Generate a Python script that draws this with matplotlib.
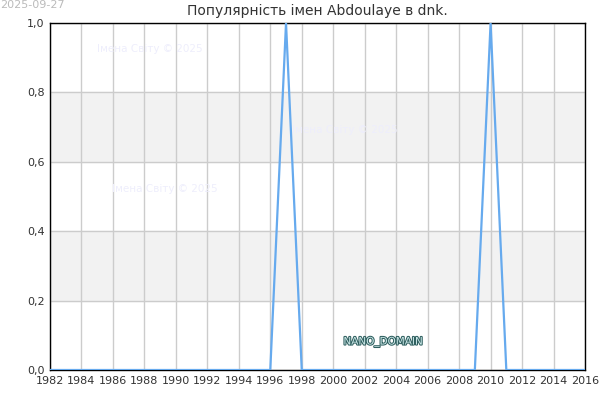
import matplotlib
matplotlib.use("Agg")
import matplotlib.pyplot as plt
import matplotlib.patheffects as pe

years = list(range(1982, 2017))
values = [0] * len(years)
values[years.index(1997)] = 1
values[years.index(2010)] = 1

x_ticks = list(range(1982, 2017, 2))
y_ticks = [0.0, 0.2, 0.4, 0.6, 0.8, 1.0]
y_labels = ["0,0", "0,2", "0,4", "0,6", "0,8", "1,0"]
bands = [(0.2, 0.4), (0.6, 0.8)]

title = "Популярність імен Abdoulaye в dnk."
stamp = "2025-09-27"
watermark = "Імена Світу © 2025"

fig = plt.figure(figsize=(6, 4), dpi=100)
ax = fig.add_axes([0.0833, 0.075, 0.8917, 0.8675])

for lo, hi in bands:
    ax.axhspan(lo, hi, color="#f2f2f2", zorder=0)

ax.plot(years, values, color="#66aaee", lw=1.6, zorder=3)

ax.set_xlim(1982, 2016)
ax.set_ylim(0, 1)
ax.set_xticks(x_ticks)
ax.set_yticks(y_ticks)
ax.set_yticklabels(y_labels)
ax.grid(True, color="#cccccc", lw=1, zorder=1)
ax.set_axisbelow(True)
ax.tick_params(length=0, labelsize=8, labelcolor="#333333", pad=4)
for s in ax.spines.values():
    s.set_color("black")
    s.set_linewidth(1)

ax.set_title(title, fontsize=10, color="#333333", pad=6)
fig.text(0.0, 1.0, stamp, fontsize=8, color="#bbbbbb", ha="left", va="top")

# faint watermarks
for wx, wy in [(150, 49), (345, 130), (165, 189)]:
    fig.text(wx / 600, 1 - wy / 400, watermark, fontsize=7.5, color="#eeeefc",
             ha="center", va="center", zorder=2)

fig.text(383 / 600, 1 - 342 / 400, "NANO_DOMAIN", fontsize=7.5, color="#cce8e8",
         ha="center", va="center", zorder=5,
         path_effects=[pe.withStroke(linewidth=1.5, foreground="#2f5f5f")])

fig.savefig("out.png", dpi=100)
